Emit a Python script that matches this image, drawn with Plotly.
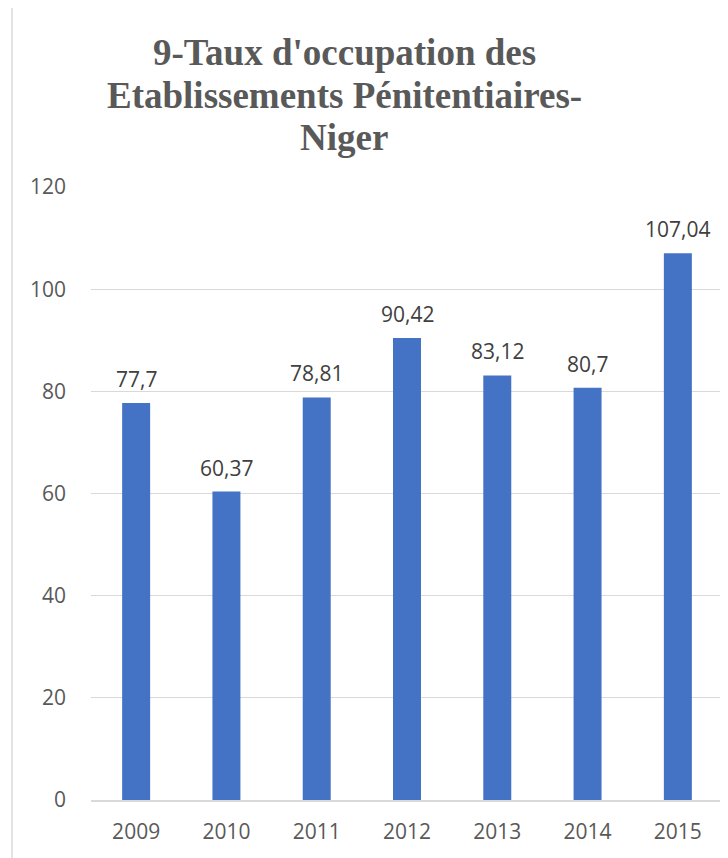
import plotly.graph_objects as go

years = ["2009", "2010", "2011", "2012", "2013", "2014", "2015"]
rates = [77.7, 60.37, 78.81, 90.42, 83.12, 80.7, 107.04]
y_ticks = [0, 20, 40, 60, 80, 100, 120]
title_lines = ["9-Taux d'occupation des", "Etablissements Pénitentiaires-", "Niger"]

labels = [str(v).replace(".", ",") for v in rates]

SANS = "Open Sans, Liberation Sans, sans-serif"

fig = go.Figure(go.Bar(
    x=years, y=rates,
    marker=dict(color="#4472C4", line=dict(width=0)),
))

# category positions are addressed by their serial index on a category axis
for i, (v, lab) in enumerate(zip(rates, labels)):
    fig.add_annotation(x=i, y=v, xref="x", yref="y", text=lab, showarrow=False,
                       xanchor="center", yanchor="bottom",
                       yshift=8, font=dict(family=SANS, size=21, color="#404040"))

OFF = 8  # page body margin
W, H = 728, 858
L, R, T, B = 91 - OFF, 5 + OFF, 187 - OFF, 58 + OFF
pw, ph = W - L - R, H - T - B

def px(x):
    return (x - OFF - L) / pw

def py(y):
    return (H - B - (y - OFF)) / ph

fig.add_shape(type="rect", xref="paper", yref="paper",
              x0=px(12), x1=px(760), y0=py(900), y1=py(7),
              line=dict(color="#d9d9d9", width=1.5), fillcolor="rgba(0,0,0,0)", layer="below")

for i, line in enumerate(title_lines):
    fig.add_annotation(
        text=line, xref="paper", yref="paper", x=px(344), y=py(53 + 42.5 * i),
        xanchor="center", yanchor="middle", showarrow=False,
        font=dict(family="Liberation Serif, Times New Roman, serif", size=37, color="#595959", weight="bold"),
    )

fig.update_layout(
    width=W, height=H,
    margin=dict(l=L, r=R, t=T, b=B),
    paper_bgcolor="white", plot_bgcolor="white",
    bargap=0.69,
    showlegend=False,
    xaxis=dict(type="category", showgrid=False, showline=True, linecolor="#d9d9d9", linewidth=1.5,
               ticks="", tickfont=dict(family=SANS, size=21, color="#595959"),
               ticklabelstandoff=12),
    yaxis=dict(range=[0, 120], tickvals=y_ticks, showgrid=True, gridcolor="#d9d9d9", gridwidth=1.2,
               zeroline=False, showline=False, ticks="",
               tickfont=dict(family=SANS, size=21, color="#595959"),
               ticklabelstandoff=24),
)

fig.write_html("out.html")
